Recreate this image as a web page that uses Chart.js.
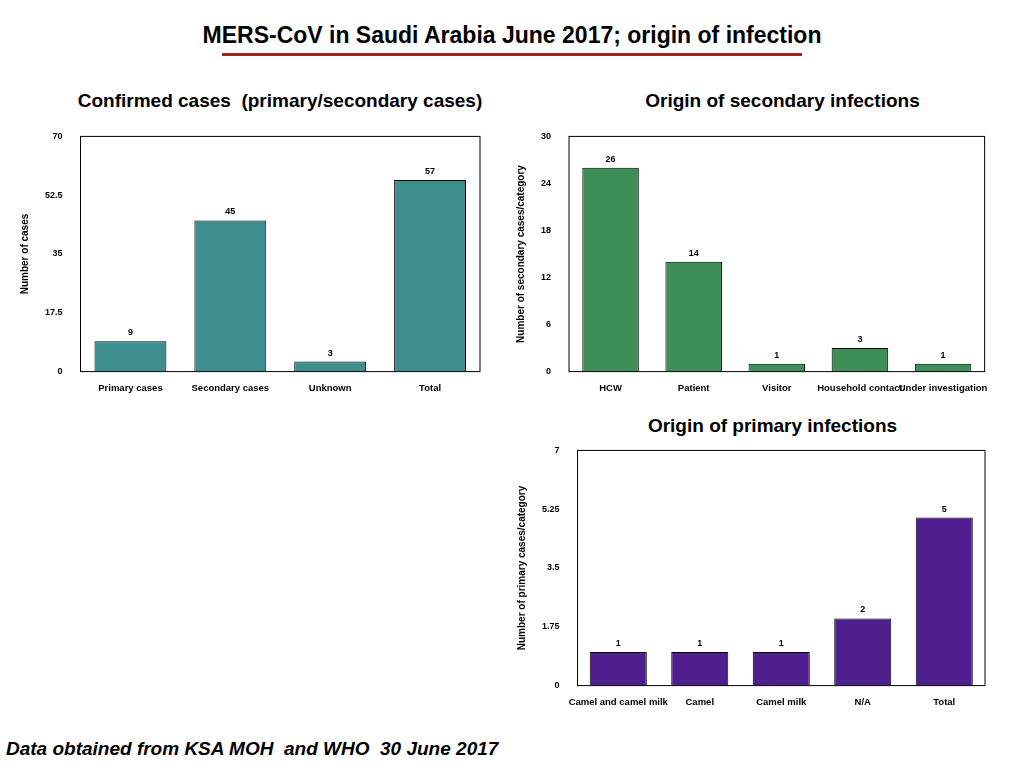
<!DOCTYPE html>
<html>
<head>
<meta charset="utf-8">
<script src="https://cdn.jsdelivr.net/npm/chart.js@4"></script>
<style>
  body { margin:0; width:1024px; height:768px; background:#fff; font-family:"Liberation Sans", Arial, sans-serif; position:relative; overflow:hidden; }
  .t { position:absolute; font-weight:bold; color:#000; text-align:center; }
  .box { position:absolute; }
</style>
</head>
<body>
<div class="t" style="left:0;width:1024px;top:22px;font-size:23px;">MERS-CoV in Saudi Arabia June 2017; origin of infection</div>
<div style="position:absolute;left:222px;top:53px;width:580px;height:3px;background:#a0281c;"></div>
<div class="t" style="left:30px;width:500px;top:90px;font-size:19px;">Confirmed cases&nbsp; (primary/secondary cases)</div>
<div class="t" style="left:540px;width:485px;top:90px;font-size:19px;">Origin of secondary infections</div>
<div class="t" style="left:530px;width:485px;top:415px;font-size:19px;">Origin of primary infections</div>
<div class="t" style="left:6px;top:738px;font-size:19px;font-style:italic;text-align:left;">Data obtained from KSA MOH&nbsp; and WHO&nbsp; 30 June 2017</div>

<div class="box" style="left:15px;top:121px;width:471px;height:276px;"><canvas id="c1"></canvas></div>
<div class="box" style="left:511px;top:121px;width:480px;height:276px;"><canvas id="c2"></canvas></div>
<div class="box" style="left:512px;top:435px;width:479px;height:276px;"><canvas id="c3"></canvas></div>

<script>
const confirmedLabels = ['Primary cases', 'Secondary cases', 'Unknown', 'Total'];
const confirmedValues = [9, 45, 3, 57];
const secondaryLabels = ['HCW', 'Patient', 'Visitor', 'Household contact', 'Under investigation'];
const secondaryValues = [26, 14, 1, 3, 1];
const primaryLabels = ['Camel and camel milk', 'Camel', 'Camel milk', 'N/A', 'Total'];
const primaryValues = [1, 1, 1, 2, 5];

const boxAndLabels = {
  id: 'boxAndLabels',
  afterDatasetsDraw(chart) {
    const c = chart.ctx, a = chart.chartArea;
    c.save();
    c.strokeStyle = '#000'; c.lineWidth = 1;
    c.strokeRect(a.left, a.top, a.right - a.left, a.bottom - a.top);
    c.font = 'bold 9px "Liberation Sans", Arial';
    c.fillStyle = '#000'; c.textAlign = 'center'; c.textBaseline = 'bottom';
    chart.getDatasetMeta(0).data.forEach((bar, i) => {
      c.fillText(chart.data.datasets[0].data[i], bar.x, bar.y - 4);
    });
    c.restore();
  }
};

function makeChart(id, labels, values, color, max, step, yTitle, barPct) {
  new Chart(document.getElementById(id), {
    type: 'bar',
    data: {
      labels: labels,
      datasets: [{ data: values, backgroundColor: color, borderColor: '#000', borderWidth: 1, barPercentage: barPct, categoryPercentage: 1 }]
    },
    options: {
      responsive: true, maintainAspectRatio: false, animation: false,
      layout: { padding: { top: 10, right: 6 } },
      plugins: { legend: { display: false }, tooltip: { enabled: false } },
      scales: {
        x: {
          grid: { display: false }, border: { display: false },
          ticks: { color: '#000', font: { size: 9.5, weight: 'bold' }, maxRotation: 0, autoSkip: false }
        },
        y: {
          min: 0, max: max,
          grid: { display: false }, border: { display: false },
          ticks: { stepSize: step, color: '#000', font: { size: 9, weight: 'bold' }, padding: 10, callback: v => String(v) },
          title: { display: true, text: yTitle, color: '#000', font: { size: 10, weight: 'bold' } }
        }
      }
    },
    plugins: [boxAndLabels]
  });
}

makeChart('c1', confirmedLabels, confirmedValues, '#3d8f8f', 70, 17.5, 'Number of cases', 0.72);
makeChart('c2', secondaryLabels, secondaryValues, '#3d8f57', 30, 6, 'Number of secondary cases/category', 0.68);
makeChart('c3', primaryLabels, primaryValues, '#4f1f8f', 7, 1.75, 'Number of primary cases/category', 0.7);
</script>
</body>
</html>
